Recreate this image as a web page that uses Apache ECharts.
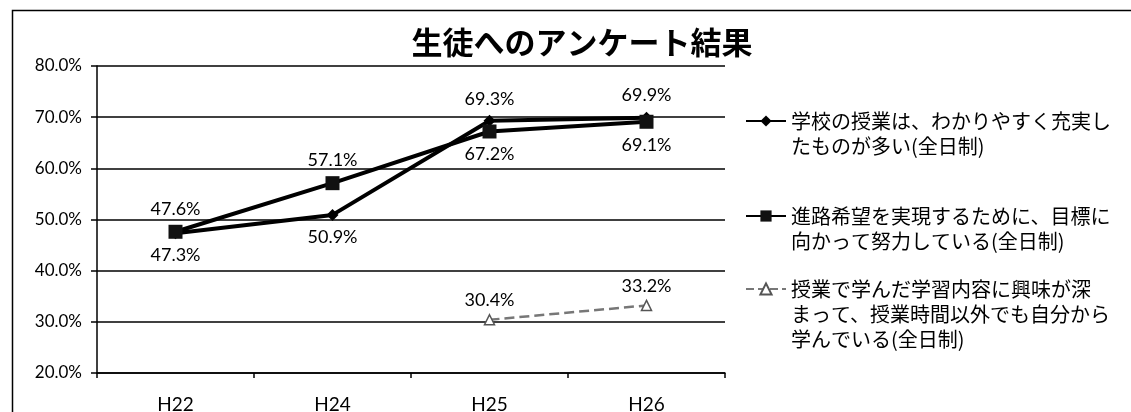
<!DOCTYPE html>
<html>
<head>
<meta charset="utf-8">
<script src="https://cdn.jsdelivr.net/npm/echarts@6/dist/echarts.min.js"></script>
<style>
  html, body { margin: 0; padding: 0; background: #fff; }
  #chart { width: 1131px; height: 412px; }
</style>
</head>
<body>
<div id="chart"></div>
<script>
// 年度
const years = ['H22', 'H24', 'H25', 'H26']

// 系列名（凡例）
const nameUnderstand = '学校の授業は、わかりやすく充実し\nたものが多い(全日制)'
const nameGoal = '進路希望を実現するために、目標に\n向かって努力している(全日制)'
const nameInterest = '授業で学んだ学習内容に興味が深\nまって、授業時間以外でも自分から\n学んでいる(全日制)'

// 値（%）
const understandValues = [47.3, 50.9, 69.3, 69.9]
const goalValues = [47.6, 57.1, 67.2, 69.1]
const interestValues = [null, null, 30.4, 33.2]

// ラベルの位置
const understandLabelPos = ['bottom', 'bottom', 'top', 'top']
const goalLabelPos = ['top', 'top', 'bottom', 'bottom']
const interestLabelPos = ['top', 'top', 'top', 'top']

const numFont = 'Lato, "Noto Sans", sans-serif'
const jpFont = '"Noto Sans CJK JP", sans-serif'

const toData = (values, positions) =>
  values.map((v, i) => ({ value: v, label: { position: positions[i] } }))

// 凡例マーカーを1行目に揃えるため、上に空行を足す
const legendText = (name) => {
  const lines = name.split('\n')
  return '\n'.repeat(lines.length - 1) + name
}

const chart = echarts.init(document.getElementById('chart'))

const legendBase = {
  orient: 'vertical',
  left: 745,
  padding: 0,
  itemWidth: 40,
  itemHeight: 14,
  itemGap: 0,
  formatter: legendText,
  textStyle: {
    fontFamily: jpFont,
    fontSize: 20,
    lineHeight: 25,
    color: '#000'
  }
}

chart.setOption({
  backgroundColor: '#fff',
  animation: false,
  title: {
    text: '生徒へのアンケート結果',
    left: 577,
    textAlign: 'center',
    top: 22,
    textStyle: {
      fontFamily: jpFont,
      fontSize: 31,
      fontWeight: 'bold',
      color: '#000'
    }
  },
  graphic: [
    {
      type: 'rect',
      shape: { x: 12.5, y: 10.5, width: 1140, height: 420 },
      style: { fill: 'none', stroke: '#000', lineWidth: 1.5 },
      silent: true
    }
  ],
  legend: [
    Object.assign({}, legendBase, { top: 121 - 37.5, data: [nameUnderstand] }),
    Object.assign({}, legendBase, { top: 216 - 37.5, data: [nameGoal] }),
    Object.assign({}, legendBase, { top: 289 - 62.5, data: [nameInterest] })
  ],
  grid: {
    left: 97,
    right: 406,
    top: 66,
    bottom: 39,
    outerBoundsMode: 'none'
  },
  xAxis: {
    type: 'category',
    data: years,
    boundaryGap: true,
    axisLine: { lineStyle: { color: '#000', width: 1.5 } },
    axisTick: { show: true, length: 5, lineStyle: { color: '#000', width: 1.5 } },
    axisLabel: {
      color: '#000',
      fontFamily: numFont,
      fontSize: 19,
      margin: 22
    }
  },
  yAxis: {
    type: 'value',
    min: 20,
    max: 80,
    interval: 10,
    axisLine: { show: true, lineStyle: { color: '#000', width: 1.5 } },
    axisTick: { show: true, length: 6, lineStyle: { color: '#000', width: 1.5 } },
    splitLine: { lineStyle: { color: '#000', width: 1.5 } },
    axisLabel: {
      color: '#000',
      fontFamily: numFont,
      fontSize: 17,
      margin: 15,
      formatter: (v) => v.toFixed(1) + '%'
    }
  },
  series: [
    {
      name: nameUnderstand,
      type: 'line',
      data: toData(understandValues, understandLabelPos),
      symbol: 'diamond',
      symbolSize: 12,
      lineStyle: { color: '#000', width: 4 },
      itemStyle: { color: '#000' },
      label: {
        show: true,
        distance: 7,
        color: '#000',
        fontFamily: numFont,
        fontSize: 18,
        formatter: (p) => p.value.toFixed(1) + '%'
      }
    },
    {
      name: nameGoal,
      type: 'line',
      data: toData(goalValues, goalLabelPos),
      symbol: 'rect',
      symbolSize: 14,
      lineStyle: { color: '#000', width: 4 },
      itemStyle: { color: '#111' },
      label: {
        show: true,
        distance: 7,
        color: '#000',
        fontFamily: numFont,
        fontSize: 18,
        formatter: (p) => p.value.toFixed(1) + '%'
      }
    },
    {
      name: nameInterest,
      type: 'line',
      data: toData(interestValues, interestLabelPos),
      symbol: 'triangle',
      symbolSize: 10,
      lineStyle: { color: '#777', width: 2.5, type: 'dashed' },
      itemStyle: { color: '#fff', borderColor: '#555', borderWidth: 1.5 },
      label: {
        show: true,
        distance: 5,
        color: '#000',
        fontFamily: numFont,
        fontSize: 18,
        formatter: (p) => (p.value == null ? '' : p.value.toFixed(1) + '%')
      }
    }
  ]
})
</script>
</body>
</html>
